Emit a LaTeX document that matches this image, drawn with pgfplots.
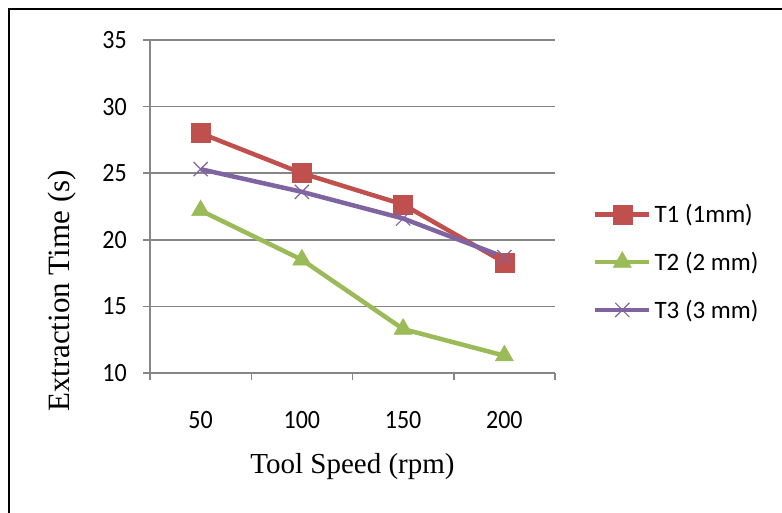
\documentclass[border=0pt]{standalone}
\usepackage{pgfplots}
\pgfplotsset{compat=1.18}
\usepackage{fontspec}
\setmainfont{Liberation Serif}
\newfontfamily\calibri{Carlito}
\definecolor{tone}{HTML}{C0504D}
\definecolor{ttwo}{HTML}{9BBB59}
\definecolor{tthree}{HTML}{8064A2}
\definecolor{axgray}{HTML}{868686}
\begin{document}
\begin{tikzpicture}
\useasboundingbox (0,0) rectangle (782pt,512pt);
\draw[line width=2pt,black] (9pt,-5pt) -- (9pt,503pt) -- (790pt,503pt);
\begin{axis}[
  at={(150pt,139pt)}, anchor=south west,
  width=405pt, height=333pt, scale only axis,
  xmin=0.5, xmax=4.5, ymin=10, ymax=35,
  xtick={1,2,3,4}, xticklabels={50,100,150,200},
  minor xtick={0.5,1.5,2.5,3.5,4.5},
  ytick={10,15,20,25,30,35},
  axis x line*=bottom, axis y line*=left,
  axis line style={-, draw=axgray, line width=1.5pt},
  every major x tick/.append style={draw=none},
  every minor x tick/.append style={draw=axgray, line width=1.5pt},
  every major y tick/.append style={draw=axgray, line width=1.5pt},
  minor tick length=7pt, major tick length=7pt,
  tick align=outside,
  ymajorgrids, grid style={draw=axgray, line width=1.5pt},
  /pgf/number format/assume math mode=true,
  ticklabel style={font=\calibri\fontsize{24}{28}\selectfont, yscale=1.1},
  xticklabel style={anchor=center, yshift=-36pt},
  yticklabel style={anchor=east, inner sep=0pt, xshift=-16pt},
  xlabel={Tool Speed (rpm)},
  ylabel={Extraction Time (s)},
  xlabel style={font=\fontsize{29}{34}\selectfont, at={(axis description cs:0.5,-0.282)}, anchor=center},
  ylabel style={font=\fontsize{31}{36}\selectfont, at={(axis description cs:-0.217,0.246)}, anchor=center},
  legend style={draw=none, fill=none, at={(axis description cs:1.086,0.333)}, anchor=west,
    font=\calibri\fontsize{25}{29}\selectfont, row sep=22pt,
    nodes={inner sep=3pt}},
  legend cell align=left,
  legend image code/.code={\draw[mark repeat=2,mark phase=2] plot coordinates {(0pt,0pt)(27pt,0pt)(54pt,0pt)};},
  clip=false,
]
\addplot[tone, line width=4.5pt, mark=square*, mark size=9.5pt, mark options={solid, line width=0.5pt, fill=tone}]
  coordinates {(1,28.0) (2,25.0) (3,22.65) (4,18.3)};
\addlegendentry{T1 (1mm)}
\addplot[ttwo, line width=4.5pt, mark=triangle*, mark size=10.5pt, mark options={solid, line width=0.5pt, fill=ttwo}]
  coordinates {(1,22.2) (2,18.5) (3,13.3) (4,11.3)};
\addlegendentry{T2 (2 mm)}
\addplot[tthree, line width=4.5pt, mark=x, mark size=10pt, mark options={solid, line width=1.2pt}]
  coordinates {(1,25.3) (2,23.6) (3,21.6) (4,18.7)};
\addlegendentry{T3 (3 mm)}
\end{axis}
\end{tikzpicture}
\end{document}
